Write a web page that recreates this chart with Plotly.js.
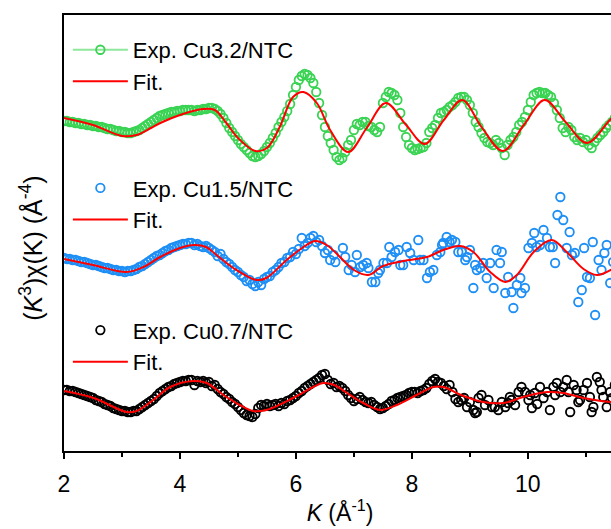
<!DOCTYPE html>
<html>
<head>
<meta charset="utf-8">
<script src="https://cdn.plot.ly/plotly-3.0.1.min.js"></script>
<style>
html,body{margin:0;padding:0;overflow:hidden;background:#fff;}
#chart{width:630px;height:529px;}
</style>
</head>
<body>
<div id="chart"></div>
<script>
// ---- Cu3.2/NTC experimental ----
const k32 = [2.00,2.05,2.10,2.15,2.20,2.25,2.30,2.35,2.40,2.45,2.50,2.55,2.60,2.65,2.70,2.75,2.80,2.85,2.90,2.95,
3.00,3.05,3.10,3.15,3.20,3.25,3.30,3.35,3.40,3.45,3.50,3.55,3.60,3.65,3.70,3.75,3.80,3.85,3.90,3.95,
4.00,4.05,4.10,4.15,4.20,4.25,4.30,4.35,4.40,4.45,4.50,4.55,4.60,4.65,4.70,4.75,4.80,4.85,4.90,4.95,
5.00,5.05,5.10,5.15,5.20,5.25,5.30,5.35,5.40,5.45,5.50,5.55,5.60,5.65,5.70,5.75,5.80,5.85,5.90,5.95,
6.00,6.05,6.10,6.15,6.20,6.25,6.30,6.35,6.40,6.45,6.50,6.55,6.60,6.65,6.70,6.75,6.80,6.85,6.90,6.95,
7.00,7.05,7.10,7.15,7.20,7.25,7.30,7.35,7.40,7.45,7.50,7.55,7.60,7.65,7.70,7.75,7.80,7.85,7.90,7.95,
8.00,8.05,8.10,8.15,8.20,8.25,8.30,8.35,8.40,8.45,8.50,8.55,8.60,8.65,8.70,8.75,8.80,8.85,8.90,8.95,
9.00,9.05,9.10,9.15,9.20,9.25,9.30,9.35,9.40,9.45,9.50,9.55,9.60,9.65,9.70,9.75,9.80,9.85,9.90,9.95,
10.00,10.05,10.10,10.15,10.20,10.25,10.30,10.35,10.40,10.45,10.50,10.55,10.60,10.65,10.70,10.75,10.80,10.85,10.90,10.95,
11.00,11.05,11.10,11.15,11.20,11.25,11.30,11.35,11.40,11.45,11.50];
const y32 = [33.0,33.0,32.9,32.9,32.8,32.8,32.7,32.7,32.6,32.6,32.5,32.5,32.4,32.4,32.3,32.2,32.2,32.1,32.0,32.0,
31.9,31.9,31.8,31.8,31.9,32.0,32.1,32.3,32.5,32.7,32.9,33.1,33.3,33.5,33.6,33.7,33.8,33.9,33.9,34.0,
34.0,34.1,34.1,34.1,34.1,34.0,34.1,34.1,34.2,34.2,34.3,34.3,34.2,34.0,33.7,33.3,32.8,32.3,31.9,31.5,
31.1,30.7,30.4,30.1,29.8,29.5,29.4,29.5,29.7,30.0,30.4,30.8,31.3,31.8,32.4,32.9,33.4,34.0,34.7,35.6,
36.4,37.1,37.5,37.7,37.6,37.3,36.8,35.9,34.8,33.6,32.4,31.5,30.8,30.1,29.4,29.1,29.3,29.9,30.6,31.1,
32.1,32.7,32.6,32.9,32.9,32.5,32.4,32.1,31.9,32.4,34.8,35.4,35.9,35.8,35.6,35.1,33.8,32.4,31.4,30.6,
30.3,30.1,30.2,30.3,30.4,30.8,31.9,32.3,32.6,33.3,33.8,33.9,34.1,34.4,34.6,34.9,35.3,35.4,35.4,35.1,
34.6,33.8,32.9,32.4,31.8,31.3,30.9,30.8,30.6,31.1,30.8,30.3,29.6,30.6,31.1,31.4,31.9,32.6,32.9,33.4,
34.1,34.9,35.6,35.8,35.9,35.8,35.8,35.6,35.4,34.8,34.1,33.3,32.3,31.9,32.4,32.1,31.4,31.1,31.3,30.9,
31.1,30.6,30.3,30.9,31.3,31.6,31.9,32.3,32.6,32.9,33.3];
// ---- Cu3.2/NTC fit ----
const kf32 = [2.0,2.5,3.0,3.25,3.5,3.66,4.0,4.4,4.6,4.8,5.0,5.3,5.5,5.72,5.95,6.13,6.36,6.59,6.9,7.22,7.55,7.9,8.22,8.55,8.87,9.2,9.57,9.93,10.29,10.65,11.02,11.43,11.8];
const yf32 = [33.3,32.6,31.5,31.6,32.3,32.8,33.6,34.2,34.1,32.8,31.3,30.0,30.3,32.4,35.4,35.9,34.8,32.1,29.9,32.3,34.8,32.6,30.7,33.1,35.1,32.4,30.0,32.6,35.1,32.9,30.8,33.2,35.1];

// ---- Cu1.5/NTC experimental ----
const k15 = [2.00,2.05,2.10,2.15,2.20,2.25,2.30,2.35,2.40,2.45,2.50,2.55,2.60,2.65,2.70,2.75,2.80,2.85,2.90,2.95,
3.00,3.05,3.10,3.15,3.20,3.25,3.30,3.35,3.40,3.45,3.50,3.55,3.60,3.65,3.70,3.75,3.80,3.85,3.90,3.95,
4.00,4.05,4.10,4.15,4.20,4.25,4.30,4.35,4.40,4.45,4.50,4.55,4.60,4.65,4.70,4.75,4.80,4.85,4.90,4.95,
5.00,5.05,5.10,5.15,5.20,5.25,5.30,5.35,5.40,5.45,5.50,5.55,5.60,5.65,5.70,5.75,5.80,5.85,5.90,5.95,
6.00,6.05,6.10,6.15,6.20,6.25,6.30,6.35,6.40,6.45,6.50,6.55,
6.59,6.65,6.68,6.81,6.85,6.91,6.96,7.02,7.05,7.11,7.16,7.22,7.25,7.31,7.37,7.42,7.45,7.51,7.57,7.61,
7.65,7.71,7.77,7.80,7.85,7.91,7.97,8.03,8.11,8.14,8.20,8.26,8.31,8.37,8.43,8.49,8.52,8.54,8.60,8.65,
8.69,8.75,8.80,8.86,8.92,8.95,9.00,9.06,9.09,9.12,9.18,9.23,9.29,9.35,9.41,9.46,9.52,9.55,9.61,9.66,
9.72,9.75,9.81,9.87,9.89,9.95,10.01,10.07,10.11,10.15,10.21,10.27,10.33,10.38,10.43,10.47,10.51,10.56,10.61,10.67,
10.72,10.76,10.81,10.87,10.93,10.97,11.02,11.07,11.12,11.16,11.22,11.27,11.32,11.36,11.42,11.47,11.52];
const y15 = [19.3,19.2,19.2,19.1,19.1,19.0,18.9,18.9,18.8,18.7,18.6,18.6,18.5,18.4,18.3,18.3,18.2,18.1,18.1,18.0,
18.0,17.9,18.0,18.0,18.1,18.2,18.4,18.5,18.7,18.9,19.1,19.3,19.5,19.6,19.8,20.0,20.1,20.3,20.4,20.5,
20.6,20.7,20.7,20.8,20.8,20.6,20.7,20.5,20.4,20.5,20.3,20.1,19.9,19.5,19.7,19.2,18.9,18.7,18.4,18.1,
17.9,17.6,17.4,17.0,17.1,16.7,16.5,16.9,16.6,17.2,17.4,17.5,17.9,18.1,18.4,18.8,18.9,19.3,19.4,19.9,
19.7,20.2,21.3,20.5,20.8,21.3,21.5,20.9,21.1,20.5,19.8,20.1,
19.1,19.6,18.9,20.3,19.4,18.1,18.6,17.9,19.6,18.4,18.6,18.8,18.3,16.9,16.9,17.8,18.1,18.8,18.8,20.4,
19.4,19.9,20.1,18.6,18.6,20.4,19.8,19.1,21.1,19.1,19.1,17.3,17.9,18.1,19.6,19.9,20.6,20.8,21.4,20.9,
21.1,20.9,19.9,19.9,19.1,19.4,20.1,16.3,18.6,18.1,18.3,18.8,17.3,18.8,16.3,20.1,18.8,19.9,15.8,17.4,
15.9,14.3,16.6,17.3,15.8,16.3,20.3,20.8,21.8,20.4,20.6,22.1,21.3,20.4,20.4,18.8,23.6,25.4,23.1,20.3,
21.9,19.6,19.8,14.9,16.1,20.3,17.4,17.3,20.9,13.6,19.1,18.1,19.8,20.6,16.8,18.9,20.1];
// ---- Cu1.5/NTC fit ----
const kf15 = [2.0,2.5,3.08,3.37,3.66,4.0,4.25,4.45,4.63,4.92,5.32,5.49,5.84,6.13,6.33,6.53,6.76,7.0,7.25,7.5,7.85,8.26,8.54,8.83,9.06,9.35,9.61,9.81,10.1,10.41,10.67,10.96,11.19,11.43,11.7];
const yf15 = [19.2,18.6,17.9,18.4,19.4,20.3,20.6,20.4,19.6,18.3,17.1,17.3,19.1,20.4,21.0,20.6,19.4,18.1,17.6,18.5,19.0,19.4,20.1,20.5,19.9,17.9,16.9,17.6,19.9,21.1,19.9,18.2,17.6,18.1,19.3];

// ---- Cu0.7/NTC experimental ----
const k07 = [2.00,2.05,2.10,2.15,2.20,2.25,2.30,2.35,2.40,2.45,2.50,2.55,2.60,2.65,2.70,2.75,2.80,2.85,2.90,2.95,
3.00,3.05,3.10,3.15,3.20,3.25,3.30,3.35,3.40,3.45,3.50,3.55,3.60,3.65,3.70,3.75,3.80,3.85,3.90,3.95,
4.00,4.05,4.10,4.15,4.20,4.25,4.30,4.35,4.40,4.45,4.50,4.55,4.60,4.65,4.70,4.75,4.80,4.85,4.90,4.95,
5.00,5.05,5.10,5.15,5.20,5.25,5.30,5.35,5.40,5.45,5.50,5.55,5.60,5.65,5.70,5.75,5.80,5.85,5.90,5.95,
6.00,6.05,6.10,6.15,6.20,6.25,6.30,6.35,6.40,6.45,6.50,6.55,6.60,6.65,6.70,6.75,6.80,6.85,6.90,6.95,
7.00,7.05,7.10,7.15,7.20,7.25,7.30,7.35,7.40,7.45,7.50,7.55,7.60,7.65,7.70,7.75,7.80,7.85,7.90,7.95,
8.00,8.05,8.10,8.15,8.20,8.25,8.30,8.35,8.40,8.45,8.50,8.55,8.60,8.65,8.70,8.75,8.80,8.85,8.90,
8.95,9.00,9.06,9.09,9.12,9.15,9.20,9.26,9.32,9.38,9.43,9.49,9.55,9.61,9.66,9.69,9.72,9.78,9.84,9.89,
9.95,10.01,10.04,10.07,10.12,10.16,10.21,10.27,10.33,10.38,10.44,10.47,10.50,10.56,10.61,10.67,10.70,10.73,10.79,10.84,
10.87,10.90,10.96,11.02,11.07,11.10,11.13,11.19,11.24,11.27,11.30,11.36,11.42,11.45,11.50];
const y07 = [6.1,6.1,6.0,6.0,5.9,5.8,5.7,5.6,5.5,5.4,5.3,5.1,5.0,4.9,4.7,4.6,4.5,4.3,4.2,4.1,
4.0,4.0,3.9,3.9,4.0,4.0,4.2,4.4,4.6,4.8,5.0,5.2,5.5,5.8,6.0,6.2,6.4,6.5,6.7,6.8,
6.9,7.0,7.0,7.1,7.1,6.6,7.0,6.9,7.0,6.8,6.9,6.5,6.6,6.2,5.9,5.7,5.4,5.2,4.9,4.7,
4.4,4.1,3.8,3.6,3.5,3.4,3.7,4.3,4.6,4.5,4.7,4.5,4.6,4.7,4.5,4.8,4.7,5.0,5.1,5.3,
5.5,5.8,6.0,6.3,6.5,6.7,6.9,7.1,7.3,7.6,7.7,7.1,6.7,6.8,6.4,6.5,6.3,6.0,5.6,5.3,
5.0,5.2,5.4,5.1,4.9,4.8,4.9,4.6,4.4,4.2,4.3,4.5,4.7,5.0,5.1,5.3,5.4,5.5,5.6,5.8,
5.9,5.9,5.8,6.0,6.1,6.3,6.7,7.0,7.2,6.9,6.8,6.5,6.2,6.6,5.9,5.2,4.9,5.1,5.3,
4.4,4.9,4.1,3.8,3.9,5.3,5.6,4.6,5.1,4.4,4.4,4.1,4.9,4.4,4.8,5.4,5.1,4.6,5.9,6.4,
5.9,5.1,5.6,4.3,5.8,4.7,6.4,5.3,5.9,4.1,6.4,5.6,6.8,5.9,6.4,7.1,5.9,3.9,6.6,6.1,
4.9,5.1,6.1,6.8,5.4,3.9,4.4,7.4,6.9,6.1,5.4,4.4,5.9,5.3,6.6];
// ---- Cu0.7/NTC fit ----
const kf07 = [2.0,2.51,3.08,3.25,3.54,3.83,4.23,4.46,4.75,5.03,5.26,5.49,5.95,6.3,6.47,6.66,6.88,7.16,7.45,7.74,8.08,8.37,8.54,8.89,9.23,9.58,9.92,10.33,10.61,10.96,11.43,11.8];
const yf07 = [6.0,5.3,3.9,4.0,5.1,6.4,7.0,6.8,5.6,4.6,4.0,4.1,5.3,6.4,6.8,6.6,5.8,4.8,4.1,4.6,5.6,6.4,6.4,5.5,4.9,4.8,5.4,5.9,5.8,5.3,4.9,5.0];

const names = ["Exp. Cu3.2/NTC", "Exp. Cu1.5/NTC", "Exp. Cu0.7/NTC", "Fit."];

const FONT = 'Arial, "Liberation Sans", sans-serif';
const GREEN = '#3ad353', GREEN_LINE = '#8ee89b', BLUE = '#1e8ff5', RED = '#ff0000';
const mk = (c) => ({symbol: 'circle-open', size: 8.5, color: c, line: {width: 1.8, color: c}});
const fitLine = {color: RED, width: 2, shape: 'spline', smoothing: 1};

const traces = [
  {x: k32, y: y32, type: 'scatter', mode: 'markers', marker: mk(GREEN), showlegend: false, legend: 'legend'},
  {x: [null], y: [null], type: 'scatter', mode: 'lines+markers', name: names[0],
   marker: mk(GREEN), line: {color: GREEN_LINE, width: 2}, legend: 'legend'},
  {x: kf32, y: yf32, type: 'scatter', mode: 'lines', name: names[3], line: fitLine, legend: 'legend'},
  {x: k15, y: y15, type: 'scatter', mode: 'markers', name: names[1], marker: mk(BLUE), legend: 'legend2'},
  {x: kf15, y: yf15, type: 'scatter', mode: 'lines', name: names[3], line: fitLine, legend: 'legend2'},
  {x: k07, y: y07, type: 'scatter', mode: 'markers', name: names[2], marker: mk('#000000'), legend: 'legend3'},
  {x: kf07, y: yf07, type: 'scatter', mode: 'lines', name: names[3], line: fitLine, legend: 'legend3'}
];

const legBase = (y) => ({x: 0.007, xanchor: 'left', y: y, yanchor: 'top', bgcolor: 'rgba(0,0,0,0)',
  font: {family: FONT, size: 22, color: '#000'}, itemwidth: 55, traceorder: 'normal'});

const layout = {
  width: 630, height: 529,
  margin: {l: 64, r: 14, t: 15, b: 78},
  paper_bgcolor: '#fff', plot_bgcolor: '#fff',
  font: {family: FONT, color: '#000'},
  showlegend: true,
  legend: legBase(0.968),
  legend2: legBase(0.651),
  legend3: legBase(0.325),
  xaxis: {
    range: [2, 11.52], tick0: 2, dtick: 2, ticks: 'outside', ticklen: 6, tickwidth: 1.5, tickcolor: '#000',
    minor: {dtick: 1, ticks: 'outside', ticklen: 4, tickwidth: 1.5, tickcolor: '#000'},
    showline: true, linewidth: 1.6, linecolor: '#000', mirror: true,
    showgrid: false, zeroline: false,
    ticklabelstandoff: 6,
    tickfont: {family: FONT, size: 23, color: '#000'},
    title: {text: '<i>K</i> (Å<sup>-1</sup>)', font: {family: FONT, size: 23, color: '#000'}, standoff: 8}
  },
  yaxis: {
    range: [0, 43.6], showticklabels: false, ticks: '',
    showline: true, linewidth: 1.6, linecolor: '#000', mirror: true,
    showgrid: false, zeroline: false
  },
  annotations: [{
    text: '(<i>K</i><sup>3</sup>)χ(K) (Å<sup>-4</sup>)', textangle: -90,
    xref: 'paper', yref: 'paper', x: -0.06, y: 0.466, xanchor: 'center', yanchor: 'middle',
    showarrow: false, font: {family: FONT, size: 25, color: '#000'}
  }]
};

Plotly.newPlot('chart', traces, layout, {displayModeBar: false, staticPlot: true});
</script>
</body>
</html>
